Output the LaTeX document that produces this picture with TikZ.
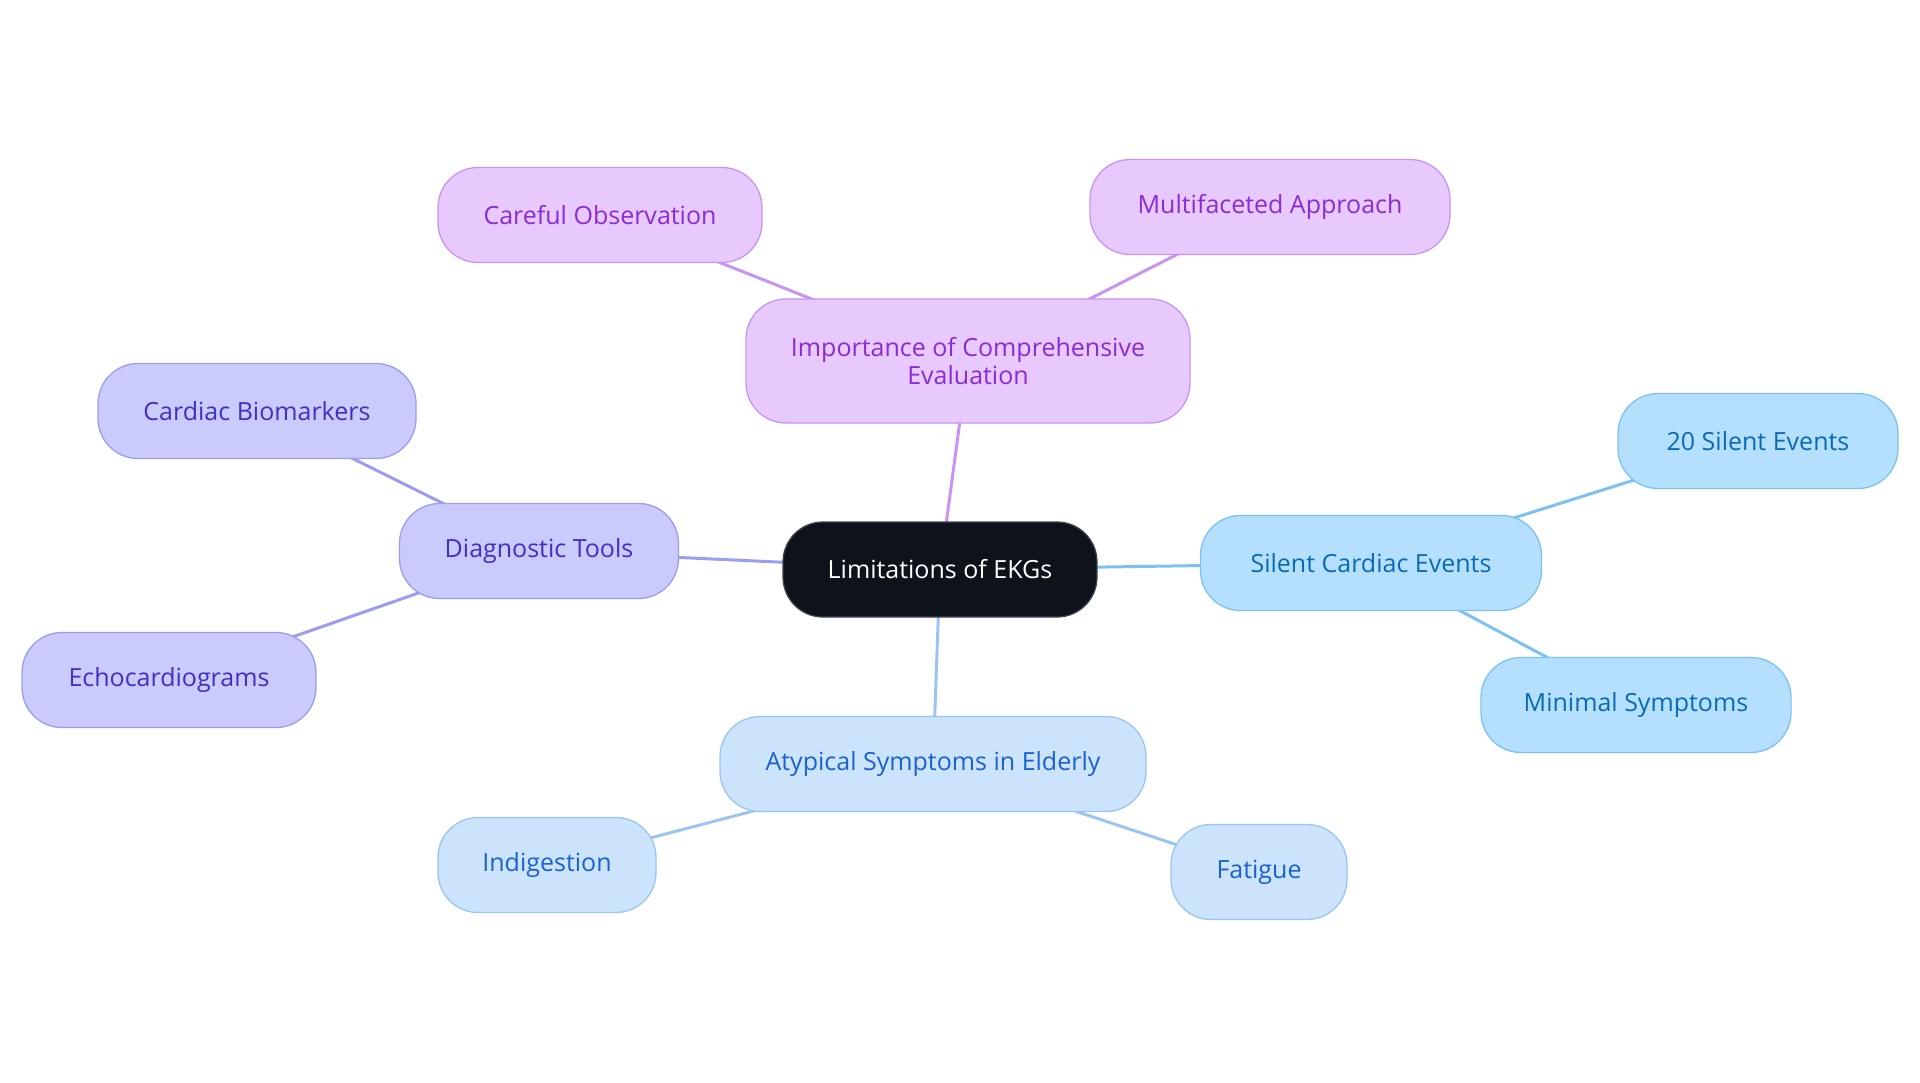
\documentclass[tikz,border=0pt]{standalone}
\usepackage{fontspec}
\setmainfont{Open Sans}
\usetikzlibrary{backgrounds}
\definecolor{rootfill}{HTML}{0D121B}
\definecolor{rootdraw}{HTML}{40454C}
\definecolor{pfill}{HTML}{E8C9FD}
\definecolor{pdraw}{HTML}{C993F2}
\definecolor{ptext}{HTML}{8A2BD6}
\definecolor{ifill}{HTML}{CACAFC}
\definecolor{idraw}{HTML}{9C9CF0}
\definecolor{itext}{HTML}{3A33C4}
\definecolor{sfill}{HTML}{B5E0FD}
\definecolor{sdraw}{HTML}{7CC1F0}
\definecolor{stext}{HTML}{0A6AB5}
\definecolor{bfill}{HTML}{CCE3FC}
\definecolor{bdraw}{HTML}{9CC4F0}
\definecolor{btext}{HTML}{1A62CF}
\begin{document}
\begin{tikzpicture}[x=1pt,y=-1pt,
  box/.style={rectangle, rounded corners=40pt, line width=1.3pt, minimum height=95pt, inner sep=0pt, align=center, font=\fontsize{25}{28}\selectfont},
  rootbox/.style={box, fill=rootfill, draw=rootdraw, text=white},
  pbox/.style={box, fill=pfill, draw=pdraw, text=ptext},
  ibox/.style={box, fill=ifill, draw=idraw, text=itext},
  sbox/.style={box, fill=sfill, draw=sdraw, text=stext},
  bbox/.style={box, fill=bfill, draw=bdraw, text=btext},
  pedge/.style={draw=pdraw, line width=3pt},
  iedge/.style={draw=idraw, line width=3pt},
  sedge/.style={draw=sdraw, line width=3pt},
  bedge/.style={draw=bdraw, line width=3pt}]
\useasboundingbox (0,0) rectangle (1920,1083);
\node[rootbox, minimum width=314pt] (root) at (940,569.5) {Limitations of EKGs};
\node[pbox, minimum width=444pt, minimum height=124pt] (imp) at (968,361) {Importance of Comprehensive\\Evaluation};
\node[pbox, minimum width=324pt] (careful) at (600,215) {Careful Observation};
\node[pbox, minimum width=360pt] (multi) at (1270,207) {Multifaceted Approach};
\node[ibox, minimum width=279pt] (diag) at (539,551) {Diagnostic Tools};
\node[ibox, minimum width=318pt] (cardiac) at (257,411) {Cardiac Biomarkers};
\node[ibox, minimum width=294pt] (echo) at (169,680) {Echocardiograms};
\node[sbox, minimum width=341pt] (silent) at (1371,563) {Silent Cardiac Events};
\node[sbox, minimum width=280pt] (twenty) at (1758,441) {20 Silent Events};
\node[sbox, minimum width=310pt] (minimal) at (1636,705) {Minimal Symptoms};
\node[bbox, minimum width=426pt] (atyp) at (933,764) {Atypical Symptoms in Elderly};
\node[bbox, minimum width=218pt] (indig) at (547,865) {Indigestion};
\node[bbox, minimum width=176pt] (fatigue) at (1259,872) {Fatigue};
\begin{scope}[on background layer]
\draw[pedge] (root.center) -- (imp.center);
\draw[pedge] (imp.center) -- (careful.center);
\draw[pedge] (imp.center) -- (multi.center);
\draw[iedge] (root.center) -- (diag.center);
\draw[iedge] (diag.center) -- (cardiac.center);
\draw[iedge] (diag.center) -- (echo.center);
\draw[sedge] (root.center) -- (silent.center);
\draw[sedge] (silent.center) -- (twenty.center);
\draw[sedge] (silent.center) -- (minimal.center);
\draw[bedge] (root.center) -- (atyp.center);
\draw[bedge] (atyp.center) -- (indig.center);
\draw[bedge] (atyp.center) -- (fatigue.center);
\end{scope}
\end{tikzpicture}
\end{document}
